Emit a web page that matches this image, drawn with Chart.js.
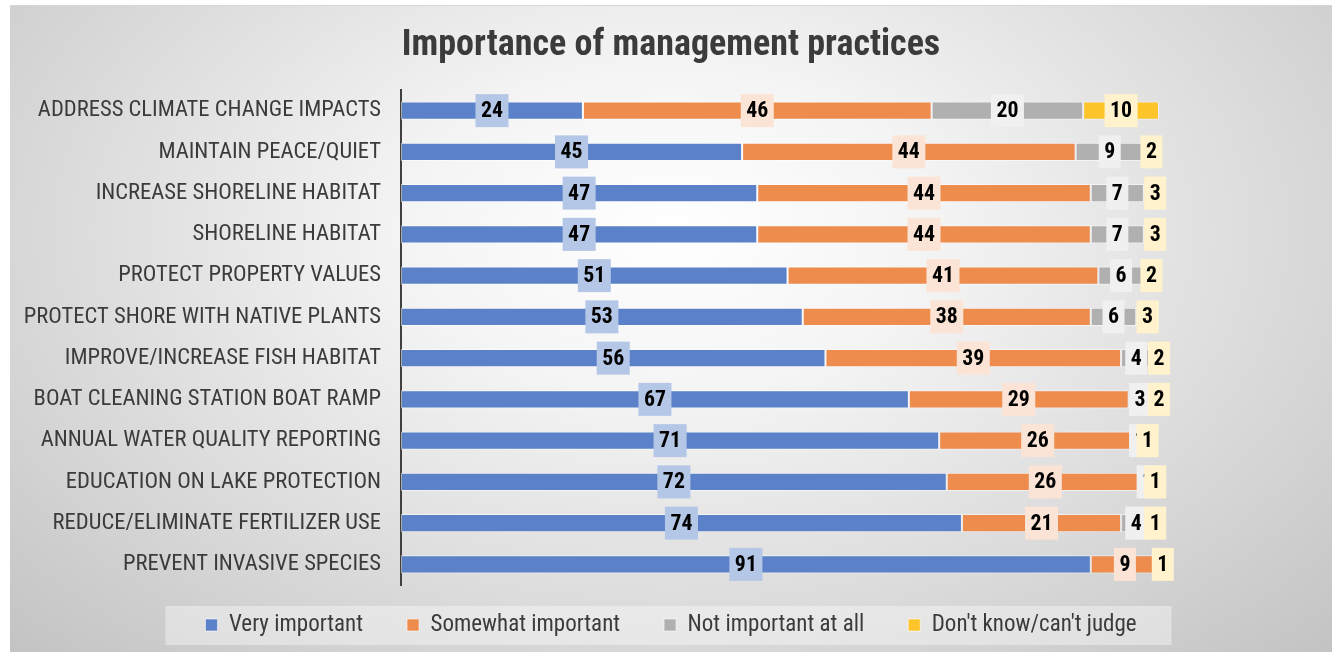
<!DOCTYPE html>
<html>
<head>
<meta charset="utf-8">
<title>Importance of management practices</title>
<script src="https://cdn.jsdelivr.net/npm/chart.js@4.4.1/dist/chart.umd.min.js"></script>
<style>
  html,body{margin:0;padding:0;background:#fff;}
  #wrap{
    position:absolute;left:10px;top:5px;width:1322px;height:647px;box-sizing:border-box;
    border-top:1px solid #d6d6d6;
    background:radial-gradient(ellipse at 50% 35%, #ffffff 0%, #f4f4f4 28%, #c3c3c3 100%);
  }
  canvas{display:block;}
</style>
</head>
<body>
<div id="wrap"><canvas id="chart" width="1322" height="646"></canvas></div>
<script>
'use strict';

/* ── DATA ────────────────────────────────────────────────── */
const TITLE = 'Importance of management practices';

const CATEGORIES = [
  'ADDRESS CLIMATE CHANGE IMPACTS',
  'MAINTAIN PEACE/QUIET',
  'INCREASE SHORELINE HABITAT',
  'SHORELINE HABITAT',
  'PROTECT PROPERTY VALUES',
  'PROTECT SHORE WITH NATIVE PLANTS',
  'IMPROVE/INCREASE FISH HABITAT',
  'BOAT CLEANING STATION BOAT RAMP',
  'ANNUAL WATER QUALITY REPORTING',
  'EDUCATION ON LAKE PROTECTION',
  'REDUCE/ELIMINATE FERTILIZER USE',
  'PREVENT INVASIVE SPECIES',
];

const VERY_IMPORTANT     = [24, 45, 47, 47, 51, 53, 56, 67, 71, 72, 74, 91];
const SOMEWHAT_IMPORTANT = [46, 44, 44, 44, 41, 38, 39, 29, 26, 26, 21,  9];
const NOT_IMPORTANT      = [20,  9,  7,  7,  6,  6,  4,  3,  1,  1,  4,  0];
const DONT_KNOW          = [10,  2,  3,  3,  2,  3,  2,  2,  1,  1,  1,  1];

const SERIES_NAMES = ['Very important', 'Somewhat important', 'Not important at all', "Don't know/can't judge"];

/* ── STYLE ───────────────────────────────────────────────── */
const BAR_COLORS   = ['#5b82c9', '#ee8c4d', '#b0b0b0', '#fdc529'];
const LABEL_BG     = ['#b4c7e7', '#fbe4d5', '#f0f0f0', '#fff2cc'];
const TEXT_COLOR   = '#3b3b3b';

// pick a narrow face close to Calibri's proportions
function fontExists(name) {
  const c = document.createElement('canvas').getContext('2d');
  const s = 'ADDRESS CLIMATE mwil 0123';
  c.font = '40px monospace';
  const a = c.measureText(s).width;
  c.font = `40px "${name}", monospace`;
  return c.measureText(s).width !== a;
}
const FAMILY = ['Liberation Sans Narrow', 'Roboto Condensed', 'Open Sans Condensed', 'Roboto']
  .find(fontExists) || 'Roboto';
const FONT = `"${FAMILY}", Roboto, sans-serif`;

// size a font so that a sample string takes a given width
function fitSize(text, width, weight, cap) {
  const c = document.createElement('canvas').getContext('2d');
  c.font = `${weight} 100px ${FONT}`;
  return Math.min(cap, +(width / c.measureText(text).width * 100).toFixed(1));
}
const LABEL_SIZE  = fitSize(CATEGORIES[0], 343, 'normal', 23);
const TITLE_SIZE  = fitSize(TITLE, 581, 'bold', 36);
const LEGEND_SIZE = fitSize(SERIES_NAMES[0], 143, 'normal', 23);
const VALUE_SIZE  = fitSize('24', 22, 'bold', 22);

const CANVAS_H    = 646;
const AXIS_LEFT   = 391;   // width of the category axis
const RIGHT_GAP   = 173;   // room right of the 100% mark
const TITLE_MID   = 40;
const PLOT_TOP    = 84;
const PLOT_BOTTOM = 579;
const LEGEND_MID  = 619;
const LEGEND_PAD  = 44;

/* ── PLUGINS ─────────────────────────────────────────────── */
const legendShift = {
  id: 'legendShift',
  afterLayout(chart) {
    const lg = chart.legend;
    const d = LEGEND_MID - (lg.top + LEGEND_PAD + LEGEND_SIZE / 2);
    lg.top += d; lg.bottom += d;
  }
};

const legendPanel = {
  id: 'legendPanel',
  beforeDraw(chart) {
    const lg = chart.legend;
    const ctx = chart.ctx;
    const w = lg.lineWidths[0] - LEGEND_PAD;
    const cx = (lg.left + lg.right) / 2;
    const cy = lg.top + LEGEND_PAD + LEGEND_SIZE / 2;
    ctx.save();
    ctx.fillStyle = 'rgba(255,255,255,0.38)';
    ctx.fillRect(cx - w / 2 - 40, cy - 19, w + 40 + 35, 39);
    ctx.restore();
  }
};

const valueLabels = {
  id: 'valueLabels',
  afterDatasetsDraw(chart) {
    const ctx = chart.ctx;
    ctx.save();
    ctx.font = `bold ${VALUE_SIZE}px ${FONT}`;
    ctx.textAlign = 'center';
    ctx.textBaseline = 'middle';
    chart.data.datasets.forEach((ds, di) => {
      chart.getDatasetMeta(di).data.forEach((bar, i) => {
        const v = ds.data[i];
        if (!v) return;
        const x = (bar.x + bar.base) / 2;
        const txt = String(v);
        const w = ctx.measureText(txt).width + 11;
        ctx.fillStyle = LABEL_BG[di];
        ctx.fillRect(x - w / 2, bar.y - 16.5, w, 33);
        ctx.fillStyle = '#000';
        ctx.fillText(txt, x, bar.y + 1);
      });
    });
    ctx.restore();
  }
};

/* ── CHART ───────────────────────────────────────────────── */
const SERIES = [VERY_IMPORTANT, SOMEWHAT_IMPORTANT, NOT_IMPORTANT, DONT_KNOW];
const LEGEND_H = LEGEND_SIZE + LEGEND_PAD + 10;

new Chart(document.getElementById('chart'), {
  type: 'bar',
  data: {
    labels: CATEGORIES,
    datasets: SERIES.map((d, i) => ({
      label: SERIES_NAMES[i],
      data: d,
      backgroundColor: BAR_COLORS[i],
      borderColor: 'rgba(255,255,255,0.55)',
      borderWidth: 1,
      borderSkipped: false,
      categoryPercentage: 1,
      barPercentage: 0.44,
    }))
  },
  options: {
    indexAxis: 'y',
    responsive: false,
    animation: false,
    devicePixelRatio: 1,
    layout: { padding: { top: 0, left: 0, right: 0, bottom: CANVAS_H - PLOT_BOTTOM - LEGEND_H } },
    scales: {
      x: { stacked: true, min: 0, max: 100, display: false },
      y: {
        stacked: true,
        grid: { display: false, drawTicks: false },
        border: { display: true, color: '#404040', width: 2 },
        ticks: { color: TEXT_COLOR, font: { family: FONT, size: LABEL_SIZE }, padding: 20, autoSkip: false },
        afterFit: s => { s.width = AXIS_LEFT; }
      },
      yRight: {
        position: 'right',
        grid: { display: false, drawTicks: false },
        border: { display: false },
        ticks: { display: false },
        afterFit: s => { s.width = RIGHT_GAP; }
      }
    },
    plugins: {
      title: {
        display: true,
        text: TITLE,
        color: TEXT_COLOR,
        font: { family: FONT, size: TITLE_SIZE, weight: 'bold', lineHeight: 1.2 },
        padding: { top: TITLE_MID - TITLE_SIZE * 0.6, bottom: PLOT_TOP - TITLE_MID - TITLE_SIZE * 0.6 }
      },
      legend: {
        position: 'bottom',
        labels: {
          color: TEXT_COLOR,
          font: { family: FONT, size: LEGEND_SIZE },
          boxWidth: 12, boxHeight: 12,
          padding: LEGEND_PAD
        }
      },
      tooltip: { enabled: false }
    }
  },
  plugins: [legendShift, legendPanel, valueLabels]
});
</script>
</body>
</html>
